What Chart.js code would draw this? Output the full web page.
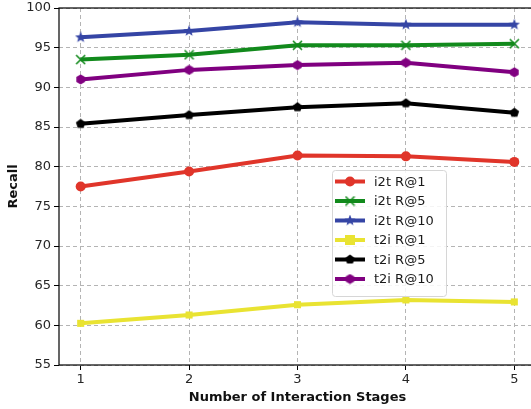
<!DOCTYPE html>
<html>
<head>
<meta charset="utf-8">
<script src="https://cdn.jsdelivr.net/npm/chart.js@4.4.1/dist/chart.umd.min.js"></script>
<style>
  html, body { margin: 0; padding: 0; background: #fff; overflow: hidden; }
  #wrap { width: 537px; height: 409px; }
  #c { display: block; }
</style>
</head>
<body>
<div id="wrap"><canvas id="c" width="537" height="409"></canvas></div>
<script>
// Recall per number of interaction stages
const stages = [1, 2, 3, 4, 5];
const yTicks = [55, 60, 65, 70, 75, 80, 85, 90, 95, 100];

const i2tR1  = [77.5, 79.4, 81.4, 81.3, 80.6];
const i2tR5  = [93.5, 94.1, 95.3, 95.3, 95.5];
const i2tR10 = [96.3, 97.1, 98.2, 97.9, 97.9];
const t2iR1  = [60.25, 61.3, 62.6, 63.2, 62.95];
const t2iR5  = [85.4, 86.5, 87.5, 88.0, 86.8];
const t2iR10 = [91.0, 92.2, 92.8, 93.1, 91.9];

const seriesLabels = ['i2t R@1', 'i2t R@5', 'i2t R@10', 't2i R@1', 't2i R@5', 't2i R@10'];

// Filled polygon / star markers drawn onto small canvases
function makeMarker(color, kind, size) {
  const c = document.createElement('canvas');
  c.width = size; c.height = size;
  const ctx = c.getContext('2d');
  const cx = size / 2, cy = size / 2;
  ctx.fillStyle = color;
  ctx.strokeStyle = color;
  ctx.beginPath();
  if (kind === 'star') {
    const R = size / 2, r = R * 0.42;
    for (let i = 0; i < 10; i++) {
      const a = -Math.PI / 2 + i * Math.PI / 5;
      const rr = i % 2 === 0 ? R : r;
      const px = cx + rr * Math.cos(a), py = cy + rr * Math.sin(a);
      i === 0 ? ctx.moveTo(px, py) : ctx.lineTo(px, py);
    }
    ctx.closePath(); ctx.fill();
  } else if (kind === 'pentagon' || kind === 'hexagon') {
    const n = kind === 'pentagon' ? 5 : 6;
    const R = size / 2 - 0.5;
    for (let i = 0; i < n; i++) {
      const a = -Math.PI / 2 + i * 2 * Math.PI / n;
      const px = cx + R * Math.cos(a), py = cy + R * Math.sin(a);
      i === 0 ? ctx.moveTo(px, py) : ctx.lineTo(px, py);
    }
    ctx.closePath(); ctx.fill();
  } else if (kind === 'x') {
    ctx.lineWidth = 1.6;
    const d = size / 2 - 1;
    ctx.moveTo(cx - d, cy - d); ctx.lineTo(cx + d, cy + d);
    ctx.moveTo(cx + d, cy - d); ctx.lineTo(cx - d, cy + d);
    ctx.stroke();
  }
  return c;
}

const RED = '#e0352a', GREEN = '#128a1c', BLUE = '#3545a5',
      YELLOW = '#e9e332', BLACK = '#000000', PURPLE = '#800080';

function pts(arr) { return stages.map((s, i) => ({ x: s, y: arr[i] })); }

function ds(label, arr, color, style, radius) {
  return {
    label: label,
    data: pts(arr),
    borderColor: color,
    backgroundColor: color,
    borderWidth: 4,
    pointStyle: style,
    pointRadius: radius,
    pointHoverRadius: radius,
    pointBorderWidth: 0,
    tension: 0
  };
}

const datasets = [
  ds(seriesLabels[0], i2tR1,  RED,    'circle', 5),
  ds(seriesLabels[1], i2tR5,  GREEN,  makeMarker(GREEN, 'x', 11), 5),
  ds(seriesLabels[2], i2tR10, BLUE,   makeMarker(BLUE, 'star', 12), 6),
  ds(seriesLabels[3], t2iR1,  YELLOW, 'rect', 5),
  ds(seriesLabels[4], t2iR5,  BLACK,  makeMarker(BLACK, 'pentagon', 11), 6),
  ds(seriesLabels[5], t2iR10, PURPLE, makeMarker(PURPLE, 'hexagon', 11), 6)
];

// Spines around the plot area (right spine falls just past the visible edge)
const framePlugin = {
  id: 'frame',
  afterDatasetsDraw(chart) {
    const a = chart.chartArea, ctx = chart.ctx;
    ctx.save();
    ctx.strokeStyle = '#000';
    ctx.lineWidth = 1.2;
    ctx.setLineDash([]);
    ctx.strokeRect(a.left, a.top, a.right - a.left, a.bottom - a.top);
    ctx.restore();
  }
};

// Legend box inside the plot area
const legendPlugin = {
  id: 'boxLegend',
  afterDraw(chart) {
    const ctx = chart.ctx;
    const x0 = 332, y0 = 170, w = 114, h = 126;
    ctx.save();
    ctx.setLineDash([]);
    ctx.fillStyle = 'rgba(255,255,255,0.85)';
    ctx.strokeStyle = '#d6d6d6';
    ctx.lineWidth = 1;
    ctx.beginPath();
    if (ctx.roundRect) ctx.roundRect(x0 + 0.5, y0 + 0.5, w, h, 3); else ctx.rect(x0 + 0.5, y0 + 0.5, w, h);
    ctx.fill(); ctx.stroke();
    ctx.font = '13px "DejaVu Sans"';
    ctx.textBaseline = 'middle';
    chart.data.datasets.forEach((d, i) => {
      const y = y0 + 11.5 + i * 19.5;
      ctx.strokeStyle = d.borderColor;
      ctx.lineWidth = 4;
      ctx.beginPath();
      ctx.moveTo(335, y); ctx.lineTo(365, y);
      ctx.stroke();
      const ps = d.pointStyle;
      ctx.fillStyle = d.backgroundColor;
      if (typeof ps === 'string') {
        ctx.beginPath();
        if (ps === 'circle') ctx.arc(350, y, d.pointRadius, 0, Math.PI * 2);
        else ctx.rect(350 - d.pointRadius, y - d.pointRadius, d.pointRadius * 2, d.pointRadius * 2);
        ctx.fill();
      } else {
        ctx.drawImage(ps, 350 - ps.width / 2, y - ps.height / 2);
      }
      ctx.fillStyle = '#1a1a1a';
      ctx.fillText(d.label, 374, y + 1);
    });
    ctx.restore();
  }
};

const gridOpts = {
  color: '#b4b4b4', lineWidth: 1,
  drawTicks: true, tickLength: 5, tickBorderDash: [], tickColor: '#000', tickWidth: 1
};

new Chart(document.getElementById('c'), {
  type: 'line',
  data: { datasets: datasets },
  options: {
    responsive: false,
    maintainAspectRatio: false,
    animation: false,
    events: [],
    layout: { autoPadding: false, padding: { top: 8, right: 1, left: 2, bottom: 0 } },
    plugins: { legend: { display: false }, tooltip: { enabled: false } },
    scales: {
      x: {
        type: 'linear',
        min: 0.8, max: 5.2,
        afterBuildTicks(scale) { scale.ticks = stages.map(v => ({ value: v })); },
        afterFit(scale) { scale.height = 44; scale.paddingLeft = 0; scale.paddingRight = 0; },
        ticks: { color: '#262626', font: { family: 'DejaVu Sans', size: 13 }, padding: 2, maxRotation: 0 },
        grid: gridOpts,
        border: { display: false, dash: [4, 3] },
        title: { display: true, text: 'Number of Interaction Stages', color: '#111',
                 font: { family: 'DejaVu Sans', size: 13, weight: 'bold' }, padding: { top: 2 } }
      },
      y: {
        min: 55, max: 100,
        afterBuildTicks(scale) { scale.ticks = yTicks.map(v => ({ value: v })); },
        afterFit(scale) { scale.width = 57; scale.paddingTop = 0; scale.paddingBottom = 0; },
        ticks: { color: '#262626', font: { family: 'DejaVu Sans', size: 13 }, padding: 3 },
        grid: gridOpts,
        border: { display: false, dash: [4, 3] },
        title: { display: true, text: 'Recall', color: '#111',
                 font: { family: 'DejaVu Sans', size: 13, weight: 'bold' }, padding: { bottom: 2 } }
      }
    }
  },
  plugins: [framePlugin, legendPlugin]
});
</script>
</body>
</html>
